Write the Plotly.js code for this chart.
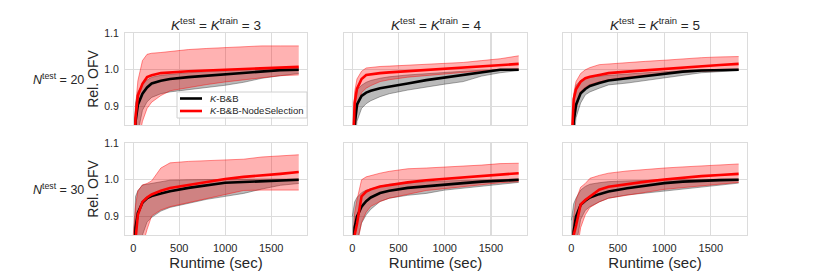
<!DOCTYPE html>
<html>
<head>
<meta charset="utf-8">
<script src="https://cdn.plot.ly/plotly-3.0.1.min.js"></script>
<style>html,body{margin:0;padding:0;background:#fff;}#chart{width:830px;height:277px;}</style>
</head>
<body>
<div id="chart"></div>
<script>
// ---------------- DATA ----------------
const runtime = [0, 25, 50, 100, 150, 200, 300, 400, 600, 800, 1000, 1200, 1400, 1600, 1800];

const columnTitles = ["<i>K</i><sup>test</sup> = <i>K</i><sup>train</sup> = 3",
                      "<i>K</i><sup>test</sup> = <i>K</i><sup>train</sup> = 4",
                      "<i>K</i><sup>test</sup> = <i>K</i><sup>train</sup> = 5"];
const rowLabels = ["<i>N</i><sup>test</sup> = 20", "<i>N</i><sup>test</sup> = 30"];
const seriesNames = ["<i>K</i>-B&B", "<i>K</i>-B&B-NodeSelection"];
const xTickVals = [0, 500, 1000, 1500];
const yTickVals = [0.9, 1.0, 1.1];
const yTickText = ["0.9", "1.0", "1.1"];

// N=20, K=3
const n20k3_bb_mean = [0.70, 0.86, 0.905, 0.935, 0.952, 0.963, 0.970, 0.975, 0.980, 0.984, 0.988, 0.992, 0.997, 0.999, 1.000];
const n20k3_bb_lo   = [0.60, 0.76, 0.83, 0.89, 0.913, 0.925, 0.935, 0.940, 0.946, 0.951, 0.958, 0.966, 0.977, 0.984, 0.990];
const n20k3_bb_hi   = [0.78, 0.91, 0.94, 0.96, 0.972, 0.980, 0.985, 0.988, 0.992, 0.995, 0.997, 1.000, 1.002, 1.004, 1.005];
const n20k3_ns_mean = [0.72, 0.87, 0.93, 0.962, 0.980, 0.985, 0.991, 0.993, 0.996, 0.998, 1.000, 1.002, 1.005, 1.007, 1.008];
const n20k3_ns_lo   = [0.60, 0.74, 0.80, 0.86, 0.895, 0.912, 0.930, 0.943, 0.952, 0.960, 0.967, 0.973, 0.980, 0.984, 0.986];
const n20k3_ns_hi   = [0.78, 0.90, 0.97, 1.025, 1.042, 1.045, 1.047, 1.050, 1.055, 1.058, 1.061, 1.063, 1.065, 1.065, 1.065];

// N=20, K=4
const n20k4_bb_mean = [0.65, 0.85, 0.905, 0.929, 0.938, 0.943, 0.950, 0.955, 0.963, 0.972, 0.979, 0.986, 0.994, 1.000, 1.000];
const n20k4_bb_lo   = [0.55, 0.78, 0.86, 0.895, 0.908, 0.916, 0.927, 0.935, 0.945, 0.954, 0.961, 0.968, 0.983, 0.992, 0.998];
const n20k4_bb_hi   = [0.75, 0.90, 0.945, 0.958, 0.966, 0.971, 0.977, 0.981, 0.986, 0.990, 0.993, 0.996, 0.999, 1.001, 1.002];
const n20k4_ns_mean = [0.72, 0.91, 0.948, 0.975, 0.986, 0.988, 0.991, 0.993, 0.996, 0.999, 1.002, 1.005, 1.008, 1.012, 1.016];
const n20k4_ns_lo   = [0.60, 0.82, 0.89, 0.938, 0.950, 0.957, 0.968, 0.973, 0.980, 0.985, 0.989, 0.993, 0.997, 1.000, 1.002];
const n20k4_ns_hi   = [0.80, 0.94, 0.975, 0.996, 1.005, 1.007, 1.009, 1.010, 1.012, 1.014, 1.017, 1.020, 1.025, 1.030, 1.038];

// N=20, K=5
const n20k5_bb_mean = [0.70, 0.86, 0.905, 0.936, 0.948, 0.956, 0.964, 0.971, 0.977, 0.983, 0.990, 0.995, 0.998, 0.999, 1.000];
const n20k5_bb_lo   = [0.60, 0.80, 0.87, 0.91, 0.932, 0.940, 0.950, 0.959, 0.964, 0.971, 0.978, 0.987, 0.992, 0.995, 0.998];
const n20k5_bb_hi   = [0.78, 0.92, 0.958, 0.971, 0.977, 0.980, 0.983, 0.985, 0.989, 0.992, 0.995, 0.998, 1.000, 1.001, 1.002];
const n20k5_ns_mean = [0.78, 0.92, 0.947, 0.968, 0.977, 0.981, 0.986, 0.991, 0.995, 0.999, 1.003, 1.006, 1.010, 1.013, 1.016];
const n20k5_ns_lo   = [0.65, 0.85, 0.89, 0.94, 0.953, 0.960, 0.967, 0.973, 0.980, 0.985, 0.990, 0.994, 0.996, 0.998, 1.000];
const n20k5_ns_hi   = [0.82, 0.935, 0.968, 0.99, 1.000, 1.006, 1.014, 1.016, 1.020, 1.023, 1.026, 1.030, 1.033, 1.035, 1.036];

// N=30, K=3
const n30k3_bb_mean = [0.70, 0.87, 0.91, 0.938, 0.950, 0.956, 0.963, 0.969, 0.978, 0.985, 0.992, 0.994, 0.996, 0.998, 1.000];
const n30k3_bb_lo   = [0.55, 0.70, 0.78, 0.85, 0.885, 0.898, 0.915, 0.925, 0.937, 0.947, 0.955, 0.963, 0.975, 0.985, 0.990];
const n30k3_bb_hi   = [0.80, 0.955, 0.970, 0.986, 0.988, 0.990, 0.995, 0.999, 1.000, 1.001, 1.002, 1.002, 1.002, 1.002, 1.002];
const n30k3_ns_mean = [0.70, 0.84, 0.905, 0.940, 0.952, 0.960, 0.970, 0.978, 0.986, 0.995, 1.002, 1.008, 1.011, 1.016, 1.021];
const n30k3_ns_lo   = [0.50, 0.65, 0.73, 0.82, 0.865, 0.902, 0.918, 0.927, 0.938, 0.948, 0.960, 0.971, 0.972, 0.972, 0.972];
const n30k3_ns_hi   = [0.85, 0.93, 0.970, 0.986, 0.990, 0.997, 1.032, 1.046, 1.050, 1.052, 1.054, 1.056, 1.062, 1.066, 1.068];

// N=30, K=4
const n30k4_bb_mean = [0.72, 0.87, 0.90, 0.927, 0.942, 0.952, 0.964, 0.970, 0.978, 0.983, 0.987, 0.991, 0.995, 0.998, 1.000];
const n30k4_bb_lo   = [0.60, 0.77, 0.83, 0.882, 0.905, 0.920, 0.941, 0.950, 0.958, 0.963, 0.972, 0.977, 0.982, 0.987, 0.993];
const n30k4_bb_hi   = [0.90, 0.94, 0.952, 0.965, 0.972, 0.976, 0.982, 0.988, 0.992, 0.995, 0.997, 0.998, 0.999, 1.000, 1.002];
const n30k4_ns_mean = [0.70, 0.85, 0.88, 0.955, 0.968, 0.974, 0.982, 0.986, 0.993, 0.999, 1.003, 1.006, 1.010, 1.015, 1.018];
const n30k4_ns_lo   = [0.60, 0.72, 0.82, 0.885, 0.912, 0.928, 0.941, 0.950, 0.960, 0.971, 0.976, 0.982, 0.987, 0.992, 0.995];
const n30k4_ns_hi   = [0.80, 0.91, 0.945, 1.000, 1.008, 1.012, 1.018, 1.023, 1.030, 1.032, 1.034, 1.036, 1.040, 1.044, 1.045];

// N=30, K=5
const n30k5_bb_mean = [0.72, 0.86, 0.90, 0.932, 0.943, 0.952, 0.961, 0.968, 0.977, 0.985, 0.991, 0.995, 0.998, 0.999, 1.000];
const n30k5_bb_lo   = [0.60, 0.76, 0.82, 0.892, 0.917, 0.927, 0.940, 0.950, 0.959, 0.964, 0.969, 0.974, 0.980, 0.986, 0.991];
const n30k5_bb_hi   = [0.89, 0.935, 0.950, 0.972, 0.982, 0.988, 0.992, 0.995, 0.997, 0.999, 1.000, 1.001, 1.001, 1.002, 1.002];
const n30k5_ns_mean = [0.70, 0.85, 0.875, 0.933, 0.945, 0.955, 0.973, 0.981, 0.989, 0.995, 1.001, 1.006, 1.010, 1.013, 1.016];
const n30k5_ns_lo   = [0.55, 0.70, 0.79, 0.87, 0.905, 0.925, 0.940, 0.950, 0.959, 0.966, 0.974, 0.979, 0.984, 0.988, 0.993];
const n30k5_ns_hi   = [0.80, 0.90, 0.945, 0.98, 0.990, 1.004, 1.012, 1.018, 1.024, 1.029, 1.032, 1.035, 1.037, 1.040, 1.043];

// ---------------- BUILD ----------------
const panels = [
  {bb:[n20k3_bb_lo,n20k3_bb_mean,n20k3_bb_hi], ns:[n20k3_ns_lo,n20k3_ns_mean,n20k3_ns_hi]},
  {bb:[n20k4_bb_lo,n20k4_bb_mean,n20k4_bb_hi], ns:[n20k4_ns_lo,n20k4_ns_mean,n20k4_ns_hi]},
  {bb:[n20k5_bb_lo,n20k5_bb_mean,n20k5_bb_hi], ns:[n20k5_ns_lo,n20k5_ns_mean,n20k5_ns_hi]},
  {bb:[n30k3_bb_lo,n30k3_bb_mean,n30k3_bb_hi], ns:[n30k3_ns_lo,n30k3_ns_mean,n30k3_ns_hi]},
  {bb:[n30k4_bb_lo,n30k4_bb_mean,n30k4_bb_hi], ns:[n30k4_ns_lo,n30k4_ns_mean,n30k4_ns_hi]},
  {bb:[n30k5_bb_lo,n30k5_bb_mean,n30k5_bb_hi], ns:[n30k5_ns_lo,n30k5_ns_mean,n30k5_ns_hi]}
];

const W = 830, H = 277;
const colPx = [[125, 307], [344, 527], [563, 747]];
const rowPx = [[33, 125], [143, 235]];
const FONT = "Liberation Sans, Arial, Helvetica, sans-serif";
const GRID = "#dcdcdc";
const seriesColors = ["#000000", "#ff0000"];

const data = [];
const layout = {
  width: W, height: H,
  margin: {l: 0, r: 0, t: 0, b: 0},
  paper_bgcolor: "#ffffff", plot_bgcolor: "#ffffff",
  font: {family: FONT, color: "#262626"},
  showlegend: false,
  annotations: [], shapes: []
};

panels.forEach((p, i) => {
  const r = Math.floor(i / 3), c = i % 3;
  const sfx = i === 0 ? "" : String(i + 1);
  const xa = "x" + sfx, ya = "y" + sfx;
  const mk = (y, extra) => Object.assign({x: runtime, y: y, xaxis: xa, yaxis: ya, type: "scatter", mode: "lines", hoverinfo: "skip", showlegend: false}, extra);
  data.push(mk(p.bb[0], {line: {color: "rgba(60,60,60,0.55)", width: 0.8}}));
  data.push(mk(p.bb[2], {line: {color: "rgba(60,60,60,0.55)", width: 0.8}, fill: "tonexty", fillcolor: "rgba(0,0,0,0.27)"}));
  data.push(mk(p.ns[0], {line: {color: "rgba(255,0,0,0.55)", width: 0.8}}));
  data.push(mk(p.ns[2], {line: {color: "rgba(255,0,0,0.55)", width: 0.8}, fill: "tonexty", fillcolor: "rgba(255,0,0,0.3)"}));
  data.push(mk(p.bb[1], {line: {color: seriesColors[0], width: 2.6}, name: seriesNames[0]}));
  data.push(mk(p.ns[1], {line: {color: seriesColors[1], width: 2.6}, name: seriesNames[1]}));

  const xd = [colPx[c][0] / W, colPx[c][1] / W];
  const yd = [1 - rowPx[r][1] / H, 1 - rowPx[r][0] / H];
  layout["xaxis" + sfx] = {
    domain: xd, anchor: ya, range: [-90, 1890],
    tickvals: xTickVals, showticklabels: r === 1, ticks: "",
    tickfont: {size: 11, color: "#262626"},
    showgrid: true, gridcolor: GRID, gridwidth: 1.1,
    zeroline: false, showline: true, linecolor: GRID, linewidth: 1.1, mirror: true,
    automargin: false, ticklabelstandoff: 3,
    title: r === 1 ? {text: "Runtime (sec)", font: {size: 15, color: "#262626"}, standoff: 4} : {text: ""}
  };
  layout["yaxis" + sfx] = {
    domain: yd, anchor: xa, range: [0.85, 1.1],
    tickvals: yTickVals, ticktext: yTickText, showticklabels: c === 0, ticks: "",
    tickfont: {size: 10.5, color: "#262626"},
    showgrid: true, gridcolor: GRID, gridwidth: 1.1,
    zeroline: false, showline: true, linecolor: GRID, linewidth: 1.1, mirror: true,
    automargin: false, ticklabelstandoff: 3,
    title: c === 0 ? {text: "Rel. OFV", font: {size: 14, color: "#262626"}, standoff: 2} : {text: ""}
  };
  if (r === 0) {
    layout.annotations.push({
      text: columnTitles[c], xref: "paper", yref: "paper",
      x: (xd[0] + xd[1]) / 2, y: 1 - 24 / H, xanchor: "center", yanchor: "middle",
      showarrow: false, font: {size: 13.5, color: "#262626"}
    });
  }
  if (c === 0) {
    layout.annotations.push({
      text: rowLabels[r], xref: "paper", yref: "paper",
      x: 86 / W, y: (yd[0] + yd[1]) / 2, xanchor: "right", yanchor: "middle",
      showarrow: false, font: {size: 12.5, color: "#262626"}
    });
  }
});

// Legend box drawn in the first panel (paper coordinates)
const lg = {x0: 177, x1: 307, y0: 92, y1: 118};
layout.shapes.push({type: "rect", xref: "paper", yref: "paper",
  x0: lg.x0 / W, x1: lg.x1 / W, y0: 1 - lg.y1 / H, y1: 1 - lg.y0 / H,
  fillcolor: "rgba(255,255,255,0.85)", line: {color: "#d0d0d0", width: 1}, layer: "above"});
[98.5, 111].forEach((yy, k) => {
  layout.shapes.push({type: "line", xref: "paper", yref: "paper",
    x0: 180 / W, x1: 202 / W, y0: 1 - yy / H, y1: 1 - yy / H,
    line: {color: seriesColors[k], width: 2.6}, layer: "above"});
  layout.annotations.push({text: seriesNames[k], xref: "paper", yref: "paper",
    x: 208 / W, y: 1 - yy / H, xanchor: "left", yanchor: "middle", showarrow: false,
    font: {size: 9.5, color: "#262626"}});
});

Plotly.newPlot("chart", data, layout, {staticPlot: true, displayModeBar: false});
</script>
</body>
</html>
